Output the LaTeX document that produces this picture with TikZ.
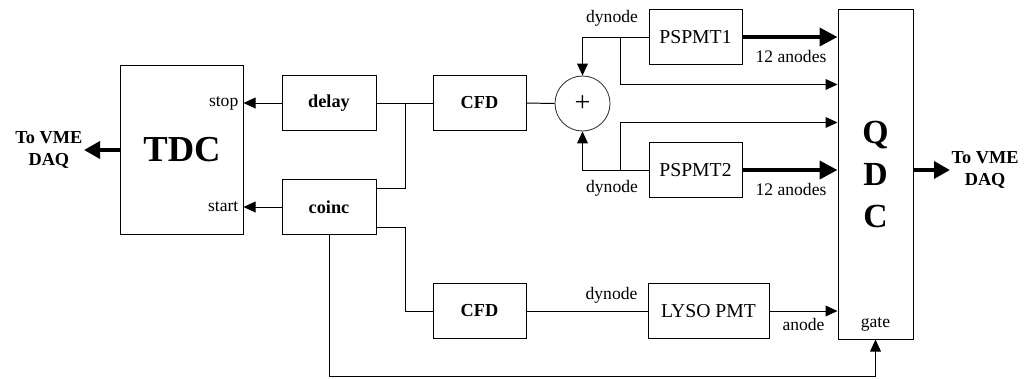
\documentclass[tikz,border=0pt]{standalone}
\usepackage{fontspec}
\setmainfont{Liberation Serif}
\usetikzlibrary{
    arrows.meta,
    positioning,
    calc,
}

\begin{document}
\begin{tikzpicture}[x=0.025cm, y=-0.025cm,
        box/.style={draw, line width=0.7pt, minimum width=2.325cm, minimum height=1.375cm, inner sep=0pt},
        boxlbl/.style={font=\fontsize{13}{15}\selectfont\bfseries},
        pmtlbl/.style={font=\fontsize{14}{16}\selectfont},
        lbl/.style={font=\fontsize{12.5}{14}\selectfont, inner sep=1pt},
        daqlbl/.style={font=\fontsize{13}{16}\selectfont\bfseries, align=center, inner sep=1pt},
        wire/.style={line width=0.7pt},
        sig/.style={wire, -{Triangle[length=0.3cm, width=0.27cm]}},
        bus/.style={line width=2.8pt, -{Triangle[length=0.45cm, width=0.45cm]}},
    ]
        \useasboundingbox (0,0) rectangle (1024,378);
        % TDC and its inputs
        \node[box, minimum width=3.05cm, minimum height=4.2cm, font=\fontsize{26}{30}\selectfont\bfseries] (tdc) at (182,150) {TDC};
        \node[lbl, anchor=east] (stop) at (240,103) {stop};
        \node[lbl, anchor=east] (start) at (240,207) {start};
        \node[daqlbl, anchor=east] (vmeL) at (84,150) {To VME\\DAQ};
        \node[box, boxlbl, minimum width=2.35cm] (delay) at (329,103) {delay};
        \node[box, boxlbl, minimum width=2.35cm] (coinc) at (329,207) {coinc};
        \node[box, boxlbl] (cfdA) at (479.5,103) {CFD};
        \node[box, boxlbl] (cfdB) at (479.5,311) {CFD};
        % sum and photomultipliers
        \node[circle, draw=black!80, line width=0.6pt, minimum size=1.375cm, inner sep=0pt, font=\fontsize{20}{22}\selectfont] (sum) at (582.5,103.5) {+};
        \node[box, pmtlbl] (pmtA) at (695.5,37) {PSPMT1};
        \node[box, pmtlbl] (pmtB) at (695.5,170) {PSPMT2};
        \node[box, pmtlbl, minimum width=3.025cm] (lyso) at (708.5,311) {LYSO PMT};
        % QDC
        \node[box, minimum width=1.875cm, minimum height=8.225cm, align=center, font=\fontsize{24}{30}\selectfont\bfseries] (qdc) at (875.5,174.5) {Q\\D\\C};
        \node[lbl] (gate) at (875.5,324) {gate};
        \node[daqlbl, anchor=west] (vmeR) at (950,170) {To VME\\DAQ};
        % wire labels
        \node[lbl] (dynA) at (612,18) {dynode};
        \node[lbl] (dynB) at (612,188) {dynode};
        \node[lbl] (dynC) at (611.5,295) {dynode};
        \node[lbl] (anA) at (791,56) {12 anodes};
        \node[lbl] (anB) at (791,189) {12 anodes};
        \node[lbl] (anode) at (803.5,324) {anode};
        % junction points
        \coordinate (jA) at (405,103);
        \coordinate (jB) at (405,311);
        \coordinate (brA) at (620,37);
        \coordinate (brB) at (620,170);
        \coordinate (bot) at (328,376);
        % connectors
        \draw[bus, -{Triangle[length=0.4cm, width=0.42cm]}] (vmeL.east -| tdc.west) -- (vmeL.east);
        \draw[sig] (delay.west) -- (delay.west -| tdc.east);
        \draw[sig] (coinc.west) -- (coinc.west -| tdc.east);
        \draw[wire] (delay.east) -- (cfdA.west);
        \draw[wire] ($(coinc.north east)+(0,9)$) -| (jA);
        \draw[wire] ($(coinc.south east)+(0,-8)$) -| (jB) -- (cfdB.west);
        \draw[wire] (cfdA.east) -- (sum.west);
        \draw[sig] (pmtA.west) -| (sum.north);
        \draw[sig] (pmtB.west) -| (sum.south);
        \draw[sig] (brA) |- ($(qdc.north west)+(0,75)$);
        \draw[sig] (brB) |- ($(qdc.north west)+(0,113)$);
        \draw[bus] (pmtA.east) -- (pmtA.east -| qdc.west);
        \draw[bus] (pmtB.east) -- (pmtB.east -| qdc.west);
        \draw[wire] (cfdB.east) -- (lyso.west);
        \draw[sig] (lyso.east) -- (lyso.east -| qdc.west);
        \draw[sig] (coinc.south) -- (coinc.south |- bot) -| (qdc.south);
        \draw[bus, -{Triangle[length=0.4cm, width=0.42cm]}] (vmeR.west -| qdc.east) -- (vmeR.west);
    \end{tikzpicture}
\end{document}
